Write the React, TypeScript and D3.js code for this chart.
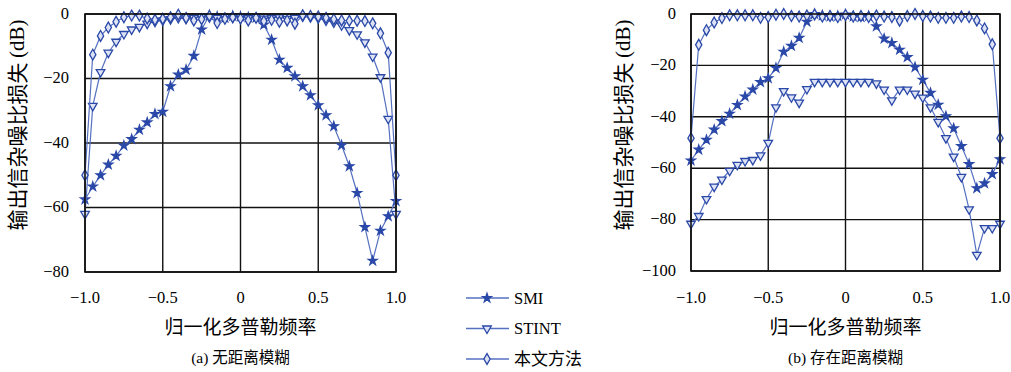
import * as d3 from "d3";
import React, { useEffect, useRef } from "react";

// normalized Doppler frequency (x of every point)
const freq = [
  -1.0, -0.95, -0.9, -0.85, -0.8, -0.75, -0.7, -0.65, -0.6, -0.55, -0.5, -0.45, -0.4, -0.35,
  -0.3, -0.25, -0.2, -0.15, -0.1, -0.05, 0, 0.05, 0.1, 0.15, 0.2, 0.25, 0.3, 0.35, 0.4, 0.45,
  0.5, 0.55, 0.6, 0.65, 0.7, 0.75, 0.8, 0.85, 0.9, 0.95, 1.0,
];

// (a) 无距离模糊
const smiA = [
  -57.5, -53.5, -50, -46.7, -44, -40.8, -38.8, -35.9, -33.6, -31, -30.3, -22.4, -18.8, -17.3,
  -13, -4.8, -0.4, -0.8, -1.2, -0.6, -0.8, -1, -1.2, -3.3, -8, -14.2, -16.7, -19.3, -22.4,
  -25.2, -28.3, -31.4, -34.8, -40.7, -47.2, -55.5, -66.1, -76.5, -67.2, -62.7, -58,
];
const stintA = [
  -62, -28.5, -18, -12, -8.6, -6.2, -4.8, -4, -3, -2.4, -2, -1.6, -1.2, -1.5, -1.2, -0.8, -1,
  -1.2, -0.9, -1.1, -0.8, -1.3, -1, -1.4, -1.2, -1, -1.5, -1.2, -0.8, -1, -1.3, -2, -2.6, -3.5,
  -5, -6.3, -8.8, -13.2, -19.6, -32.5, -62,
];
const oursA = [
  -50, -12.6, -6.8, -4.2, -2.4, -1, -0.5, -0.5, -1.4, -1.8, -1.5, -1, -0.2, -1.2, -2, -1.6,
  -0.6, -2.8, -1.5, -1, -1.4, -2, -1.2, -2.2, -1.8, -2.4, -2, -3, -0.4, -0.6, -0.8, -1.2, -1.6,
  -2, -2.1, -2.1, -2.2, -2.9, -6, -12, -50,
];

// (b) 存在距离模糊
const smiB = [
  -57, -52.8, -49, -45, -41.7, -38.8, -35.4, -32.1, -29.4, -26.5, -25, -21, -14.7, -12.4, -9.3,
  -3, 0, -0.6, -1, -0.8, -0.2, -1, -1.2, -0.8, -4.8, -9.6, -11.3, -13.9, -16.8, -20.7, -25.6,
  -30.7, -35.3, -39.8, -44.5, -51.4, -58.4, -67.8, -65.9, -62.3, -56.5,
];
const stintB = [
  -81.6, -78.6, -72, -67.2, -64.4, -61, -58.7, -57.2, -56.8, -55, -50.1, -36.3, -30, -32.4,
  -34.5, -29.2, -26.4, -26.4, -26.4, -26.4, -26.4, -26.4, -26.4, -26.4, -27, -29.4, -33.6,
  -29.4, -29.4, -31, -32.5, -36.3, -42, -48.3, -55.5, -63.4, -76, -93.7, -83.3, -83.3, -81.6,
];
const oursB = [
  -48.3, -12, -6.3, -3.3, -1.6, -0.5, -0.5, -0.5, -0.5, -1.5, -1.2, -0.3, 0, -0.8, -1, -0.6,
  -0.2, -1, -0.8, -1.2, -0.4, -1, -0.8, -1.2, -0.6, -1, -1.2, -2.6, -0.8, 0, -0.8, -1, -1.5,
  -1.5, -1.5, -1, -1.2, -2.5, -5.6, -11.8, -48.3,
];

const xTicks = [-1, -0.5, 0, 0.5, 1];
const xTickLabels = ["\u22121.0", "\u22120.5", "0", "0.5", "1.0"];
const yTicksA = [0, -20, -40, -60, -80];
const yTicksB = [0, -20, -40, -60, -80, -100];
const seriesNames = ["SMI", "STINT", "本文方法"];

const BLUE = "#2a48a8";
const LINE = "#5570c0";
const SERIF = "'Liberation Serif', 'DejaVu Serif', serif";
const CJK = "'Noto Sans CJK SC', sans-serif";

const App = () => {
  const ref = useRef(null);

  useEffect(() => {
    const width = 1011;
    const height = 372;
    const svg = d3.select(ref.current).attr("width", width).attr("height", height);
    svg.selectAll("*").remove();

    const markers = [
      d3.symbol().type(d3.symbolStar).size(24),
      d3.symbol().type(d3.symbolTriangle).size(32),
      d3.symbol().type(d3.symbolDiamond).size(34),
    ];
    const markerRotate = [0, 180, 0];
    const markerFill = [BLUE, "#dde3f4", "#dde3f4"];

    const panels = [
      { x0: 85, x1: 396, y0: 14, y1: 272, yMin: -80, yTicks: yTicksA, tx: 69,
        tag: "(a) ", caption: "无距离模糊", data: [smiA, stintA, oursA] },
      { x0: 691, x1: 1000, y0: 14, y1: 271, yMin: -100, yTicks: yTicksB, tx: 676,
        tag: "(b) ", caption: "存在距离模糊", data: [smiB, stintB, oursB] },
    ];

    panels.forEach((p) => {
      const x = d3.scaleLinear().domain([-1, 1]).range([p.x0, p.x1]);
      const y = d3.scaleLinear().domain([0, p.yMin]).range([p.y0, p.y1]);
      const g = svg.append("g");

      // grid
      g.selectAll(".vg")
        .data(xTicks)
        .enter()
        .append("line")
        .attr("x1", (d) => x(d))
        .attr("x2", (d) => x(d))
        .attr("y1", p.y0)
        .attr("y2", p.y1)
        .attr("stroke", "#111")
        .attr("stroke-width", 1.4);
      g.selectAll(".hg")
        .data(p.yTicks)
        .enter()
        .append("line")
        .attr("x1", p.x0)
        .attr("x2", p.x1)
        .attr("y1", (d) => y(d))
        .attr("y2", (d) => y(d))
        .attr("stroke", "#111")
        .attr("stroke-width", 1.4);

      // tick labels
      g.selectAll(".yl")
        .data(p.yTicks)
        .enter()
        .append("text")
        .attr("x", p.tx)
        .attr("y", (d) => y(d) + 1)
        .attr("text-anchor", "end")
        .attr("dominant-baseline", "middle")
        .style("font-family", SERIF)
        .style("font-size", "16.5px")
        .text((d) => (d < 0 ? "\u2212" + Math.abs(d) : String(d)));
      g.selectAll(".xl")
        .data(xTicks)
        .enter()
        .append("text")
        .attr("x", (d) => x(d))
        .attr("y", 303)
        .attr("text-anchor", "middle")
        .style("font-family", SERIF)
        .style("font-size", "16.5px")
        .text((d, i) => xTickLabels[i]);

      // series
      const line = d3
        .line()
        .x((d) => x(d[0]))
        .y((d) => y(d[1]));
      p.data.forEach((vals, si) => {
        const pts = freq.map((f, i) => [f, vals[i]]);
        g.append("path")
          .attr("d", line(pts))
          .attr("fill", "none")
          .attr("stroke", LINE)
          .attr("stroke-width", 1.2);
        g.selectAll(".m" + si)
          .data(pts)
          .enter()
          .append("path")
          .attr("d", markers[si])
          .attr(
            "transform",
            (d) => `translate(${x(d[0])},${y(d[1])}) rotate(${markerRotate[si]})`
          )
          .attr("fill", markerFill[si])
          .attr("stroke", BLUE)
          .attr("stroke-width", 1.3);
      });

      // frame
      g.append("rect")
        .attr("x", p.x0)
        .attr("y", p.y0)
        .attr("width", p.x1 - p.x0)
        .attr("height", p.y1 - p.y0)
        .attr("fill", "none")
        .attr("stroke", "#111")
        .attr("stroke-width", 1.6);

      // axis titles
      const cx = (p.x0 + p.x1) / 2;
      g.append("text")
        .attr("x", cx)
        .attr("y", 334)
        .attr("text-anchor", "middle")
        .style("font-family", CJK)
        .style("font-size", "19px")
        .text("归一化多普勒频率");
      const cap = g
        .append("text")
        .attr("x", cx)
        .attr("y", 363)
        .attr("text-anchor", "middle")
        .style("font-size", "15.5px");
      cap.append("tspan").style("font-family", SERIF).text(p.tag);
      cap.append("tspan").style("font-family", CJK).text(p.caption);

      const yt = g
        .append("text")
        .attr("transform", `translate(${p.x0 - 66},125) rotate(-90)`)
        .attr("text-anchor", "middle")
        .attr("dominant-baseline", "middle");
      yt.append("tspan").style("font-family", CJK).style("font-size", "21px").text("输出信杂噪比损失 ");
      yt.append("tspan").style("font-family", SERIF).style("font-size", "21px").text("(dB)");
    });

    // Legend
    const legend = svg
      .selectAll(".legend")
      .data(seriesNames)
      .enter()
      .append("g")
      .attr("transform", (d, i) => `translate(466, ${298 + i * 30.5})`);
    legend
      .append("line")
      .attr("x1", 0)
      .attr("x2", 43)
      .attr("stroke", LINE)
      .attr("stroke-width", 1.4);
    legend
      .append("path")
      .attr("d", (d, i) => markers[i]())
      .attr("transform", (d, i) => `translate(21,0) rotate(${markerRotate[i]})`)
      .attr("fill", (d, i) => markerFill[i])
      .attr("stroke", BLUE)
      .attr("stroke-width", 1.3);
    legend
      .append("text")
      .attr("x", 48)
      .attr("dy", "0.35em")
      .style("font-family", (d, i) => (i === 2 ? CJK : SERIF))
      .style("font-size", (d, i) => (i === 2 ? "17px" : "16.5px"))
      .text((d) => d);
  }, []);

  return <svg ref={ref} style={{ position: "absolute", left: 0, top: 0 }}></svg>;
};

export default App;
